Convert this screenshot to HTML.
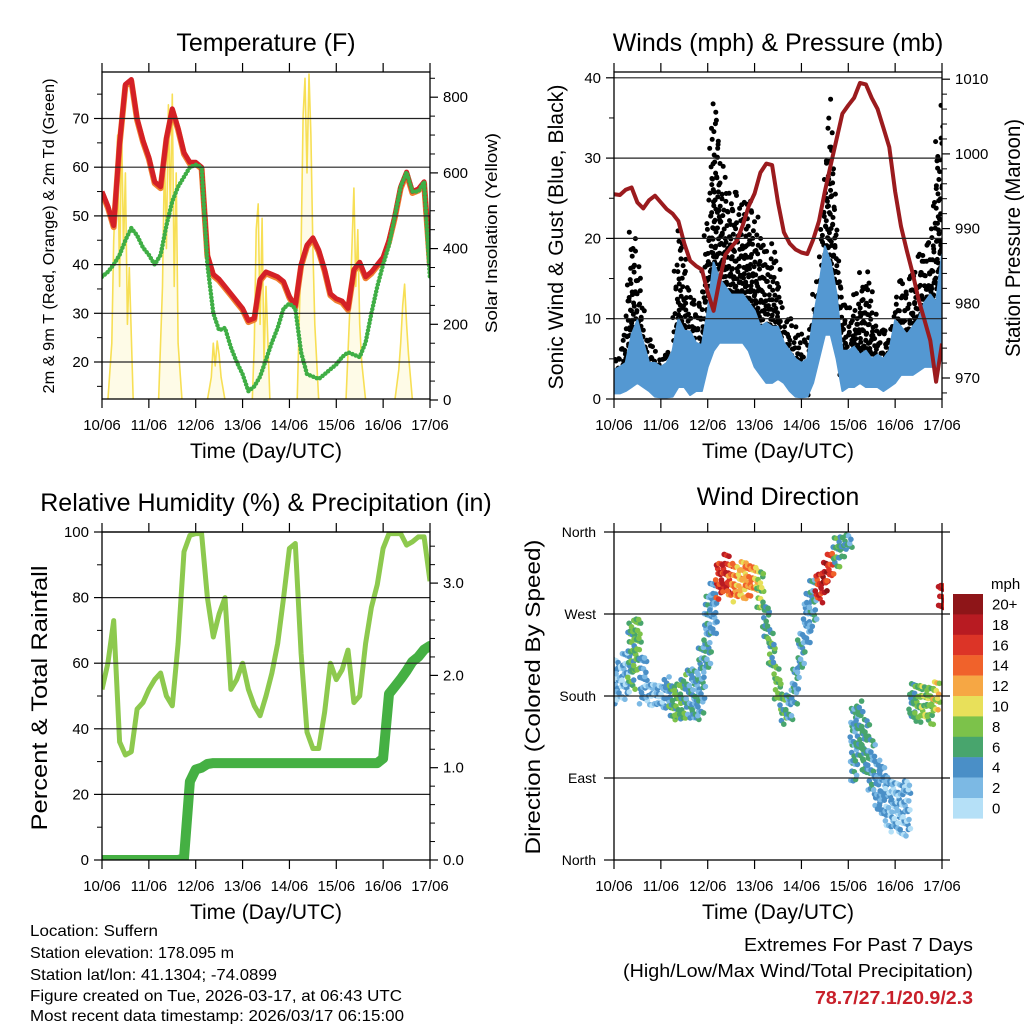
<!DOCTYPE html>
<html><head><meta charset="utf-8"><style>
html,body{margin:0;padding:0;background:#fff;}
svg{display:block;font-family:"Liberation Sans",Arial,sans-serif;}
</style></head><body>
<svg id="fig" width="1024" height="1024" viewBox="0 0 1024 1024" xmlns="http://www.w3.org/2000/svg">
<defs>
<clipPath id="c1"><rect x="102" y="72" width="328" height="327"/></clipPath>
<clipPath id="c2"><rect x="614" y="72" width="328" height="327"/></clipPath>
<clipPath id="c3"><rect x="102" y="532" width="328" height="328"/></clipPath>
<clipPath id="c4"><rect x="614" y="532" width="330" height="328"/></clipPath>
</defs>
<rect width="1024" height="1024" fill="#fff"/>
<text x="266" y="51" font-size="25" text-anchor="middle">Temperature (F)</text>
<text x="778" y="51" font-size="25" text-anchor="middle">Winds (mph) &amp; Pressure (mb)</text>
<text x="266" y="511" font-size="25" text-anchor="middle">Relative Humidity (%) &amp; Precipitation (in)</text>
<text x="778" y="505" font-size="25" text-anchor="middle">Wind Direction</text>
<text x="266" y="458" font-size="21" text-anchor="middle">Time (Day/UTC)</text>
<text x="778" y="458" font-size="21" text-anchor="middle">Time (Day/UTC)</text>
<text x="266" y="919" font-size="21" text-anchor="middle">Time (Day/UTC)</text>
<text x="778" y="919" font-size="21" text-anchor="middle">Time (Day/UTC)</text>
<text transform="translate(54,236) rotate(-90)" font-size="16" text-anchor="middle" textLength="315" lengthAdjust="spacingAndGlyphs">2m &amp; 9m T (Red, Orange) &amp; 2m Td (Green)</text>
<text transform="translate(497,233) rotate(-90)" font-size="17" text-anchor="middle" textLength="200" lengthAdjust="spacingAndGlyphs">Solar Insolation (Yellow)</text>
<text transform="translate(563,237) rotate(-90)" font-size="21" text-anchor="middle" textLength="305" lengthAdjust="spacingAndGlyphs">Sonic Wind &amp; Gust (Blue, Black)</text>
<text transform="translate(1020,238) rotate(-90)" font-size="21" text-anchor="middle" textLength="238" lengthAdjust="spacingAndGlyphs">Station Pressure (Maroon)</text>
<text transform="translate(47,698) rotate(-90)" font-size="22" text-anchor="middle" textLength="265" lengthAdjust="spacingAndGlyphs">Percent &amp; Total Rainfall</text>
<text transform="translate(540,697) rotate(-90)" font-size="21" text-anchor="middle" textLength="315" lengthAdjust="spacingAndGlyphs">Direction (Colored By Speed)</text>
<g font-size="16">
<text x="30" y="936" textLength="128" lengthAdjust="spacingAndGlyphs">Location: Suffern</text>
<text x="30" y="958" textLength="204" lengthAdjust="spacingAndGlyphs">Station elevation: 178.095 m</text>
<text x="30" y="980" textLength="247" lengthAdjust="spacingAndGlyphs">Station lat/lon: 41.1304; -74.0899</text>
<text x="30" y="1001" textLength="372" lengthAdjust="spacingAndGlyphs">Figure created on Tue, 2026-03-17, at 06:43 UTC</text>
<text x="30" y="1021" textLength="374" lengthAdjust="spacingAndGlyphs">Most recent data timestamp: 2026/03/17 06:15:00</text>
</g>
<g font-size="18" text-anchor="end">
<text x="973" y="951" textLength="229" lengthAdjust="spacingAndGlyphs">Extremes For Past 7 Days</text>
<text x="973" y="977" textLength="350" lengthAdjust="spacingAndGlyphs">(High/Low/Max Wind/Total Precipitation)</text>
<text x="973" y="1004" fill="#c8202a" font-weight="bold" textLength="158" lengthAdjust="spacingAndGlyphs">78.7/27.1/20.9/2.3</text>
</g>
<g id="root"></g>
</svg>
<script>
const hrs = [0,3,6,9,12,15,18,21,24,27,30,33,36,39,42,45,48,51,54,57,60,63,66,69,72,75,78,81,84,87,90,93,96,99,102,105,108,111,114,117,120,123,126,129,132,135,138,141,144,147,150,153,156,159,162,165,168];
const dayLabels = ["10/06","11/06","12/06","13/06","14/06","15/06","16/06","17/06"];
const temp2m = [55,52,48,65,77,78,70,65.5,62,57,56,66,72,68,63,61,61,60,42,38,37,35.5,34,32.5,31,28.5,29,37,38.5,38,37.5,36.5,33.5,31.5,40,44,45.5,43,39,34,33,32.5,31,39,40.5,37.5,38.5,40,41.5,45,50,56,59,55,55.5,57,40];
const dew2m = [37.5,38.5,40,42,45,47.5,46,43.5,42,40,42,48,53,56,58,60,60.5,60,40,30,26.5,27,23,20,17.5,14,15,17,20.5,24,27,31,32,31,22,17.5,17,16.5,17.5,18.5,19.5,21,22,21.5,21,24,30,35.5,40,44,50,56,59,55,55,57,37];
const solarHrs = [3,5,6,8,9,10,11,12,13,14,16, 29,31,32,33,34,35,36,37,38,39,41, 54,56,57,58,59,60,61,63, 77,78,79,80,81,82,83,84,86, 100,102,103,104,105,106,107,108,109,111, 125,127,128,129,130,131,132,133,135, 150,152,153,154,155,156,157,159];
const solarVals = [0,150,420,700,300,745,400,600,200,350,0, 0,300,650,400,780,500,808,300,600,150,0, 0,60,150,90,156,120,60,0, 0,150,450,518,200,480,100,300,0, 0,400,750,850,600,861,700,400,200,0, 0,250,400,560,300,450,200,100,0, 0,80,150,250,306,200,120,0];
const pressure = [994.6,994.5,995.2,995.5,993.5,992.7,993.8,994.4,993.5,992.6,992,991,988,985.7,985,984.5,981.5,979,983,986.5,987.5,988.4,990.5,993,994.7,997.5,998.7,998.5,993.5,989.5,988,987.2,986.8,986.6,988.5,991,995,998.5,1002,1005.4,1006.5,1007.5,1009.5,1009.3,1007.5,1006,1003.5,1000.9,995,990.3,987,984,980.5,977.8,975,969.5,974.6];
const windLo = [0.7,0.7,1,1.5,2,1.5,1,0.3,0.2,0.2,0.3,1.5,1.5,0.5,1,1,4,6,7,7,7,7,7,6,4,3,2,2,2.5,2,1,0.3,0.2,0.3,2,5,8,8,5,1,1.5,1.5,2,1.5,1.5,1.5,1,1.5,2,3,3,3,3.5,4,4,4,5];
const windHi = [3.6,4,4.5,8,9.8,7,4.5,4.5,4,4.5,6,10,8.5,8.4,7,6.7,11,17,15,14,13,13,13,12,11,9,9.5,9,9,7,6,5,4.5,5,9.8,14,19,17,13,6,6,6.5,5.5,6,5,5.5,5,6,9.8,9,8,9,10,12,13,12,18];
const gustLo = [2,2,2.5,4,5,4,3,1.5,1,1,1.5,4,5,3,3,3,7,10,10,10,10,10,10,9,7,5,4,4,4.5,3,3,2,0.5,0.5,4,7,12,12,8,3,3,3.5,4,4,3,3,3,3,4,4,4,5,6,6,6,7,7];
const gustHi = [6,6.5,10,21,19,11,8,6,6,6,7,21.5,20,13,13,14,24,39,33,27,26,26,25,25,24,20,19,20,18,11,10,9,8,7,12,16,28,39,22,14,11,12,16,16,14,10,9,9,12,16,14,17,18,19,20,30,37];
const wdDir = [195,200,205,225,240,200,185,183,180,185,178,175,180,185,180,200,250,280,310,315,310,305,310,308,310,300,265,230,195,168,170,195,230,265,285,300,310,325,340,345,350,130,145,125,105,85,75,65,60,55,60,175,178,175,172,180,290];
const wdSpread = [25,20,25,35,30,25,12,12,12,15,20,20,22,25,25,35,40,30,20,18,18,18,20,18,15,20,20,18,15,15,15,20,20,25,25,15,15,15,15,12,8,40,30,30,25,25,25,25,25,25,30,20,20,20,20,15,15];
const wdSpeed = [2,2,2,6,7,3,2,2,2,3,6,7,6,4,4,4,4,3,16,17,14,12,11,13,12,8,5,6,7,6,4,4,4,3,4,16,18,15,6,5,4,4,5,5,4,3,3,2,2,2,2,5,7,8,7,10,17];
const rh = [52,60,73,36,32,33,46,48,52,55,57,50,47,66,94,99,99.5,99.5,80,68,75,80,52,55,60,52,47,44,50,57,66,80,95,96.5,63,39,34,34,45,60,55,58,64,48,50,66,77,84,95,99.5,99.5,99.5,96,97,98.5,98.5,85];
const precip = [0,0,0,0,0,0,0,0,0,0,0,0,0,0,0.02,0.85,0.98,1.0,1.04,1.05,1.05,1.05,1.05,1.05,1.05,1.05,1.05,1.05,1.05,1.05,1.05,1.05,1.05,1.05,1.05,1.05,1.05,1.05,1.05,1.05,1.05,1.05,1.05,1.05,1.05,1.05,1.05,1.05,1.1,1.8,1.88,1.96,2.05,2.15,2.2,2.28,2.32];
const tempTicks = [20,30,40,50,60,70];
const solarTicks = [0,200,400,600,800];
const windTicks = [0,10,20,30,40];
const presTicks = [970,980,990,1000,1010];
const rhTicks = [0,20,40,60,80,100];
const prTicks = ["0.0","1.0","2.0","3.0"];
const dirTicks = ["North","East","South","West","North"];
const cbLabels = ["20+","18","16","14","12","10","8","6","4","2","0"];
const cbColors = ["#8e1518","#b81b22","#dc3427","#f0622b","#f6a744","#e8e05a","#7cc24a","#48a56d","#4a8fc7","#7cb9e4","#b5e0f7"];

const NS="http://www.w3.org/2000/svg";
const root=document.getElementById('root');
function mk(tag,attrs,parent){const e=document.createElementNS(NS,tag);for(const k in attrs)e.setAttribute(k,attrs[k]);(parent||root).appendChild(e);return e;}
const X1=h=>102+h/168*328, X2=h=>614+h/168*328;
const yT=v=>362-(v-20)*4.87, yS=v=>400-v*0.3785;
const yW=v=>399-v*8.03, yP=p=>378-(p-970)*7.47;
const yR=v=>860-v*3.28, yPr=v=>860-v*92.3;
const yD=d=>860-d*328/360;
function interp(arr,h){const i=Math.min(Math.floor(h/3),arr.length-2);const f=(h-hrs[i])/3;return arr[i]+(arr[i+1]-arr[i])*f;}
function ptsOf(xs,ys,X,Y){return xs.map((h,i)=>X(h).toFixed(1)+','+Y(ys[i]).toFixed(1)).join(' ');}
const jit=[0,0.62,0.23,0.87,0.41,0.05,0.71,0.34,0.93,0.18,0.56,0.79,0.12,0.48,0.66,0.29];

function frame(x0,y0,x1,y1,X,name,grid,gridY){
  const g=mk('g',{});
  
  
  grid.forEach(v=>{const l=mk('line',{x1:x0,x2:x1,y1:gridY(v),y2:gridY(v),stroke:'#222','stroke-width':1.2},g);
    
    });
  const b=mk('rect',{x:x0,y:y0,width:x1-x0,height:y1-y0,fill:'none',stroke:'#000','stroke-width':1.3},g);
  
  
  dayLabels.forEach((d,i)=>{const x=X(i*24);
    mk('line',{x1:x,x2:x,y1:y0,y2:y0-9,stroke:'#000','stroke-width':1.2},g);
    mk('line',{x1:x,x2:x,y1:y1,y2:y1+9,stroke:'#000','stroke-width':1.2},g);
    const t=mk('text',{x:x,y:y1+31,'font-size':15,'text-anchor':'middle'},g);t.textContent=d;
    
    });
  return g;
}
function leftTicks(g,x,vals,Y,labels,minor){
  vals.forEach((v,i)=>{mk('line',{x1:x-8,x2:x,y1:Y(v),y2:Y(v),stroke:'#000','stroke-width':1.2},g);
    const t=mk('text',{x:x-13,y:Y(v)+5,'font-size':15,'text-anchor':'end'},g);t.textContent=labels?labels[i]:v;
    
    });
  (minor||[]).forEach(v=>mk('line',{x1:x-5,x2:x,y1:Y(v),y2:Y(v),stroke:'#000','stroke-width':1},g));
}
function rightTicks(g,x,vals,Y,labels,minor){
  vals.forEach((v,i)=>{mk('line',{x1:x,x2:x+8,y1:Y(v),y2:Y(v),stroke:'#000','stroke-width':1.2},g);
    const t=mk('text',{x:x+13,y:Y(v)+5,'font-size':15,'text-anchor':'start'},g);t.textContent=labels?labels[i]:v;
    
    });
  (minor||[]).forEach(v=>mk('line',{x1:x,x2:x+5,y1:Y(v),y2:Y(v),stroke:'#000','stroke-width':1},g));
}

/* Panel 1 */
const g1d=mk('g',{'clip-path':'url(#c1)'});


const sol=mk('polyline',{points:ptsOf(solarHrs,solarVals,X1,yS),fill:'#fbeea0','fill-opacity':0.25,stroke:'#f7df55','stroke-width':1.6,'stroke-linejoin':'round'},g1d);


const t9=mk('polyline',{points:hrs.map((h,i)=>X1(h).toFixed(1)+','+(yT(temp2m[i])+1.5).toFixed(1)).join(' '),fill:'none',stroke:'#f08030','stroke-width':6,'stroke-linejoin':'round'},g1d);


const t2=mk('polyline',{points:ptsOf(hrs,temp2m,X1,yT),fill:'none',stroke:'#d42026','stroke-width':5,'stroke-linejoin':'round'},g1d);


const td=mk('polyline',{points:ptsOf(hrs,dew2m,X1,yT),fill:'none',stroke:'#3fae45','stroke-width':4.5,'stroke-linecap':'round','stroke-dasharray':'0 3.6','stroke-linejoin':'round'},g1d);


const g1=frame(102,72,430,399,X1,'temperature',tempTicks,yT);
leftTicks(g1,102,tempTicks,yT,null,[15,25,35,45,55,65,75]);
rightTicks(g1,430,solarTicks,yS,null,[50,100,150,250,300,350,450,500,550,650,700,750,850]);

/* Panel 2 */
const g2d=mk('g',{'clip-path':'url(#c2)'});


for(let h=0,n=0;h<=168;h+=1){
  const lo=interp(gustLo,h), hi=interp(gustHi,h);
  const x=X2(h);
  const span=hi-lo;
  for(let v=lo,k=0;v<=hi;k++,n++){
    const c=mk('circle',{cx:(x+(jit[n%16]-0.5)*5).toFixed(1),cy:yW(v).toFixed(1),r:2.5,fill:'#000'},g2d);
    
    
    const frac=(v-lo)/Math.max(span,1);
    v+=0.6+frac*frac*2.0+jit[(n+5)%16]*0.5;
  }
}
const band=mk('polygon',{points:ptsOf(hrs,windHi,X2,yW)+' '+ptsOf(hrs.slice().reverse(),windLo.slice().reverse(),X2,yW),fill:'#5498d2',stroke:'#5498d2','stroke-width':2,'stroke-linejoin':'round'},g2d);


const pl=mk('polyline',{points:ptsOf(hrs,pressure,X2,yP),fill:'none',stroke:'#9b1b1e','stroke-width':4,'stroke-linejoin':'round'},g2d);


const g2=frame(614,72,942,399,X2,'winds',[10,20,30,40],yW);
leftTicks(g2,614,windTicks,yW,null,[5,15,25,35]);
rightTicks(g2,942,presTicks,yP,null,[968,972,974,976,978,982,984,986,988,992,994,996,998,1002,1004,1006,1008]);

/* Panel 3 */
const g3d=mk('g',{'clip-path':'url(#c3)'});


const rl=mk('polyline',{points:ptsOf(hrs,rh,X1,yR),fill:'none',stroke:'#8dc94e','stroke-width':5,'stroke-linejoin':'round'},g3d);


const pr=mk('polyline',{points:ptsOf(hrs,precip,X1,yPr),fill:'none',stroke:'#45b043','stroke-width':10,'stroke-linejoin':'round','stroke-linecap':'round'},g3d);


const g3=frame(102,532,430,860,X1,'humidity',[20,40,60,80,100],yR);
leftTicks(g3,102,rhTicks,yR,null,[10,30,50,70,90]);
rightTicks(g3,430,[0,1,2,3],yPr,prTicks,[0.2,0.4,0.6,0.8,1.2,1.4,1.6,1.8,2.2,2.4,2.6,2.8,3.2,3.4]);

/* Panel 4 */
const g4d=mk('g',{'clip-path':'url(#c4)'});


hrs.forEach((h,i)=>{
  const c0=wdDir[i], sp=wdSpread[i];
  for(let j=0;j<3;j++){
    for(let d=c0-sp,k=0;d<=c0+sp;d+=7,k++){
      let dd=d+(jit[(k+j*3+i)%16]-0.5)*8; if(dd>360)dd-=360; if(dd<0)dd+=360;
      const s=Math.max(0,wdSpeed[i]+(((k+j)%3)-1)*1.5);
      const bin=Math.min(10,Math.round(s/2));
      const c=mk('circle',{cx:(X2(h)+(j-1)*2.4+(jit[(k+i)%16]-0.5)*3).toFixed(1),cy:yD(dd).toFixed(1),r:2.8,fill:cbColors[10-bin]},g4d);
      
      
    }
  }
});
const g4=frame(614,532,942,860,X2,'direction',[90,180,270],yD);
dirTicks.forEach((t,i)=>{const y=yD(i*90);
  mk('line',{x1:604,x2:614,y1:y,y2:y,stroke:'#000','stroke-width':1.2},g4);
  mk('line',{x1:942,x2:950,y1:y,y2:y,stroke:'#000','stroke-width':1.2},g4);
  const tx=mk('text',{x:596,y:y+5,'font-size':14,'text-anchor':'end'},g4);tx.textContent=t;
  
  });
const cb=mk('g',{});


const mph=mk('text',{x:991,y:589,'font-size':15},cb);mph.textContent='mph';
cbLabels.forEach((l,i)=>{const y=594+i*20.4;
  const r=mk('rect',{x:953,y:y,width:30,height:20.6,fill:cbColors[i]},cb);
  
  
  const t=mk('text',{x:992,y:y+15.5,'font-size':15},cb);t.textContent=l;
  
  });
</script>
</body></html>
